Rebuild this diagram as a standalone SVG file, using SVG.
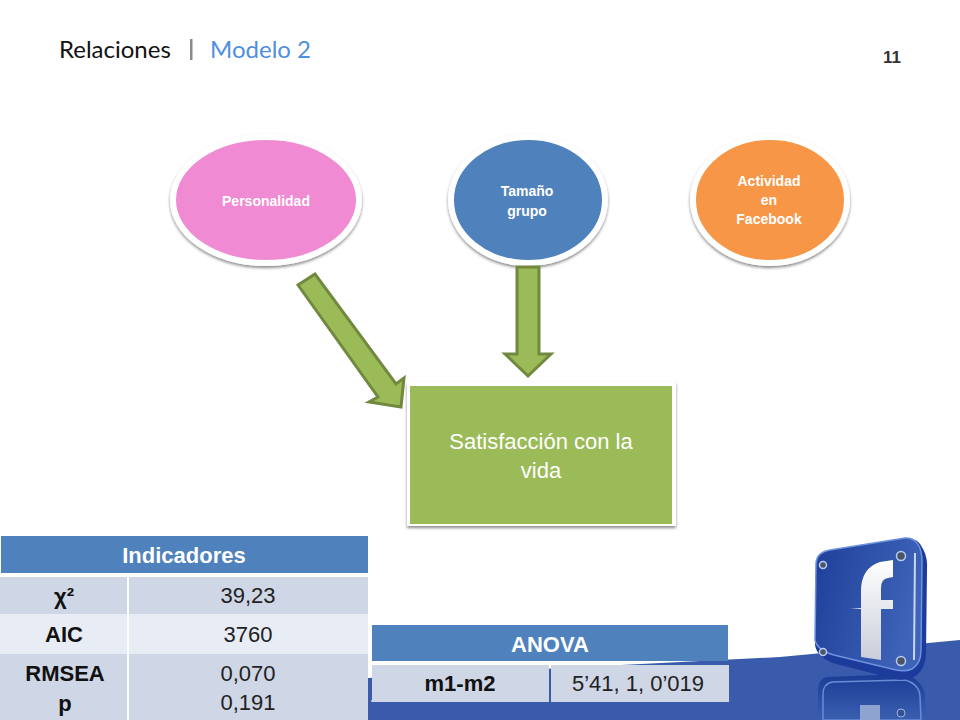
<svg xmlns="http://www.w3.org/2000/svg" width="960" height="720" viewBox="0 0 960 720">
<style>
text{font-family:"Liberation Sans",Arial,sans-serif;text-anchor:middle}
.w{fill:#fff;font-weight:bold}
.n{font-size:14px}
.th{font-size:22px}
.b{font-size:22px;font-weight:bold;fill:#111}
.v{font-size:22px;fill:#222}
.title{font-family:Lato,"Open Sans",sans-serif;font-size:24px;text-anchor:start}
.ar{fill:#9BBB59;stroke:#71893F;stroke-width:3}
.ell{stroke:#fff;stroke-width:6;filter:url(#sh)}
</style>
<defs>
<filter id="sh" x="-10%" y="-10%" width="120%" height="125%"><feDropShadow dx="0" dy="2" stdDeviation="1.6" flood-color="#000" flood-opacity=".45"/></filter>
<linearGradient id="bl" x1="0" y1="0" x2="1" y2="0.3"><stop offset="0" stop-color="#1F3F9A"/><stop offset="1" stop-color="#3E63B8"/></linearGradient>
<linearGradient id="fg" x1="0" y1="0" x2="0" y2="1"><stop offset="0" stop-color="#fff"/><stop offset="1" stop-color="#C9CEDA"/></linearGradient>
<linearGradient id="fade" x1="0" y1="0" x2="0" y2="1"><stop offset="0" stop-color="#1B3C95"/><stop offset="1" stop-color="#3A5FB0"/></linearGradient>
</defs>
<rect width="960" height="720" fill="#fff"/>
<g id="background-band">
<polygon points="368,678 780,657 960,640 960,720 368,720" fill="#3A5BAC"/>
<line x1="371" y1="701" x2="420" y2="701" stroke="#fff" stroke-width="1.5" stroke-dasharray="2 2" opacity=".7"/>
</g>
<g id="facebook-logo">
<path d="M818,690 Q818,680 826,677 L905,674 Q922,680 925,694 L926,720 L818,720Z" fill="url(#fade)"/>
<path d="M823,694 Q823,684 832,682 L905,680 Q919,684 920,696 L921,720 L823,720Z" fill="none" stroke="#6C8BD6" stroke-width="1.5"/>
<rect x="860" y="705" width="20" height="15" fill="#8FA3D0"/>
<circle cx="901" cy="713" r="4" fill="#33518F" stroke="#9DB3E0"/>
<path d="M816,563 Q817,552 830,550 L905,538 Q918,537 923,549 Q928,558 927,570 L926,652 Q926,670 914,677 Q905,681 895,679 L836,664 Q817,658 815,645Z" fill="#1C3B9A"/>
<path d="M816,563 Q817,552 830,550 L905,538 Q914,537 919,546 Q922,552 922,562 L921,650 Q921,664 912,669 Q905,672 896,670 L834,655 Q817,650 815,640Z" fill="url(#bl)" stroke="#6F92E0" stroke-width="1.5"/>
<line x1="915" y1="553" x2="914" y2="660" stroke="#C7D6F8" stroke-width="2"/>
<path d="M850,608 H861 V591 Q861,568 880,562 L893,560 V577 L888,578 Q881,579 881,588 V600 H893 L893,609 L881,609 V660 L861,657 V609 L850,608Z" fill="url(#fg)"/>
<g fill="#4A5568" stroke="#B9CBF2" stroke-width="1.5"><circle cx="823" cy="565" r="3.5"/><circle cx="901" cy="556" r="4.5"/><circle cx="823" cy="652" r="3.5"/><circle cx="901" cy="661" r="4.5"/></g>
</g>
<g id="title">
<text x="59" y="58" class="title" fill="#111">Relaciones</text>
<rect x="190" y="39" width="2.5" height="21" fill="#8a8a8a"/>
<text x="210" y="58" class="title" fill="#4F8FE0">Modelo 2</text>
</g>
<text id="page-number" x="892" y="63" font-size="17" font-weight="bold" fill="#333">11</text>
<g id="personalidad">
<ellipse cx="266" cy="200" rx="93" ry="63" fill="#F08BD3" class="ell"/>
<text x="266" y="206" class="w n">Personalidad</text>
</g>
<g id="tamano-grupo">
<ellipse cx="528" cy="200" rx="77" ry="63" fill="#4F81BD" class="ell"/>
<text x="527" y="196" class="w n">Tamaño</text>
<text x="527" y="216" class="w n">grupo</text>
</g>
<g id="actividad-facebook">
<ellipse cx="770" cy="200" rx="77" ry="63" fill="#F79646" class="ell"/>
<text x="769" y="186" class="w n">Actividad</text>
<text x="769" y="205" class="w n">en</text>
<text x="769" y="224" class="w n">Facebook</text>
</g>
<g id="connectors">
<polygon class="ar" points="298,285 315,274 396,384 404,378 401,407 369,402 378,397"/>
<polygon class="ar" points="517,267 539,267 539,354 551,354 528,376 505,354 517,354"/>
</g>
<g id="satisfaccion">
<rect x="407" y="382" width="269" height="144" fill="#fff" filter="url(#sh)"/>
<rect x="410" y="386" width="262" height="138" fill="#9BBB59"/>
<text x="541" y="449" font-size="22" fill="#fff">Satisfacción con la</text>
<text x="541" y="478" font-size="22" fill="#fff">vida</text>
</g>
<g id="tabla-indicadores">
<rect x="1" y="536" width="367" height="37" fill="#4F81BD"/>
<rect x="0" y="577" width="127" height="37" fill="#CFD6E6"/>
<rect x="129" y="577" width="239" height="37" fill="#CFD6E6"/>
<rect x="0" y="614" width="127" height="40" fill="#E8ECF4"/>
<rect x="129" y="614" width="239" height="40" fill="#E8ECF4"/>
<rect x="0" y="654" width="127" height="66" fill="#CFD6E6"/>
<rect x="129" y="654" width="239" height="66" fill="#CFD6E6"/>
<text x="184" y="563" class="w th">Indicadores</text>
<text x="64" y="604" class="b">χ²</text>
<text x="248" y="603" class="v">39,23</text>
<text x="64" y="642" class="b">AIC</text>
<text x="248" y="642" class="v">3760</text>
<text x="65" y="681" class="b">RMSEA</text>
<text x="65" y="711" class="b">p</text>
<text x="248" y="681" class="v">0,070</text>
<text x="248" y="710" class="v">0,191</text>
</g>
<g id="tabla-anova">
<rect x="372" y="625" width="356" height="36" fill="#4F81BD"/>
<rect x="372" y="665" width="177" height="37" fill="#CFD6E6"/>
<rect x="551" y="665" width="178" height="37" fill="#CFD6E6"/>
<text x="550" y="652" class="w th">ANOVA</text>
<text x="460" y="691" class="b">m1-m2</text>
<text x="638" y="691" class="v">5’41, 1, 0’019</text>
</g>
</svg>
